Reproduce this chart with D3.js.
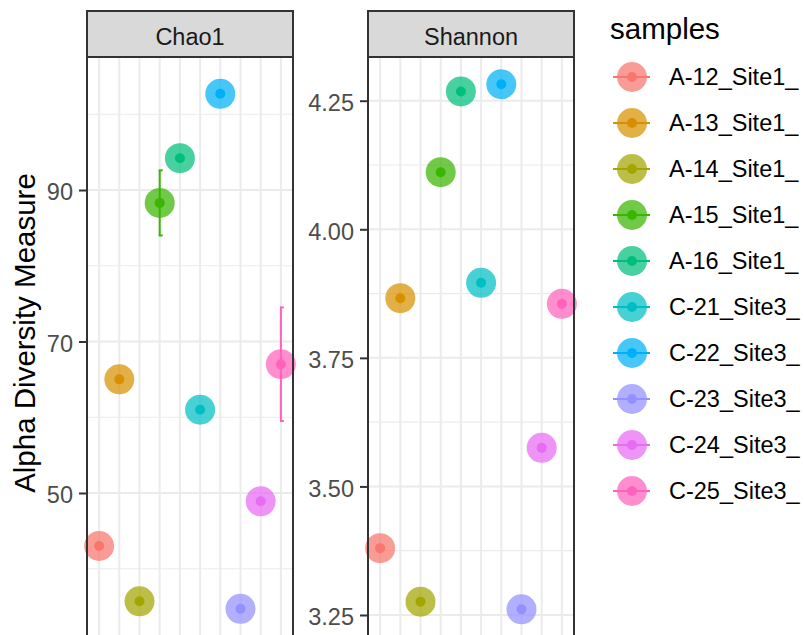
<!DOCTYPE html>
<html>
<head>
<meta charset="utf-8">
<script src="https://cdn.jsdelivr.net/npm/d3@7"></script>
<style>
    body { margin: 0; background: #ffffff; }
    svg { display: block; font-family: "Liberation Sans", Arial, sans-serif; }
</style>
</head>
<body>
<div id="chart"></div>
<script>
// samples (legend labels are cut off at the right edge in the original)
var samples = ['A-12_Site1_', 'A-13_Site1_', 'A-14_Site1_', 'A-15_Site1_', 'A-16_Site1_',
    'C-21_Site3_', 'C-22_Site3_', 'C-23_Site3_', 'C-24_Site3_', 'C-25_Site3_'];
var colors = ['#F8766D', '#D89000', '#A3A500', '#39B600', '#00BF7D',
    '#00BFC4', '#00B0F6', '#9590FF', '#E76BF3', '#FF62BC'];

var chao1 = [43.0, 65.0, 35.7, 88.3, 94.2, 61.0, 102.7, 34.7, 48.9, 67.0];
var chao1Se = [0, 0, 0, 4.3, 0, 0, 0, 0, 0, 7.5];
var shannon = [3.380, 3.866, 3.276, 4.111, 4.268, 3.896, 4.282, 3.261, 3.575, 3.855];

var chao1Ticks = [50, 70, 90];
var chao1Minor = [30, 40, 60, 80, 100];
var shannonTicks = [3.25, 3.50, 3.75, 4.00, 4.25];
var shannonMinor = [3.125, 3.375, 3.625, 3.875, 4.125];

var w = 804, h = 635;
var stripTop = 11, panelTop = 57, panelBottom = 660;

var svg = d3.select('#chart').append('svg').attr('width', w).attr('height', h)
    .attr('viewBox', '0 0 ' + w + ' ' + h);

var facets = [
    { name: 'Chao1', x0: 87, x1: 293, values: chao1, se: chao1Se, domain: [27.95, 107.56],
        ticks: chao1Ticks, minor: chao1Minor, fmt: d3.format('d') },
    { name: 'Shannon', x0: 368, x1: 574, values: shannon, se: null, domain: [3.1625, 4.335],
        ticks: shannonTicks, minor: shannonMinor, fmt: d3.format('.2f') }
];

facets.forEach(drawPanel);

function drawPanel(f) {
    var x = d3.scalePoint().domain(samples).range([f.x0, f.x1]).padding(0.6);
    var y = d3.scaleLinear().domain(f.domain).range([panelBottom, panelTop]);
    var g = svg.append('g');

    // grid
    g.selectAll('line.minor').data(f.minor).enter().append('line')
        .attr('x1', f.x0).attr('x2', f.x1)
        .attr('y1', function (d) { return y(d); }).attr('y2', function (d) { return y(d); })
        .attr('stroke', '#EBEBEB').attr('stroke-width', 1.2);
    g.selectAll('line.hmajor').data(f.ticks).enter().append('line')
        .attr('x1', f.x0).attr('x2', f.x1)
        .attr('y1', function (d) { return y(d); }).attr('y2', function (d) { return y(d); })
        .attr('stroke', '#EBEBEB').attr('stroke-width', 2);
    g.selectAll('line.vmajor').data(samples).enter().append('line')
        .attr('x1', function (d) { return x(d); }).attr('x2', function (d) { return x(d); })
        .attr('y1', panelTop).attr('y2', panelBottom)
        .attr('stroke', '#EBEBEB').attr('stroke-width', 2);

    // error bars
    if (f.se) {
        var bars = g.selectAll('g.err').data(samples.filter(function (d, i) { return f.se[i] > 0; }))
            .enter().append('g');
        bars.append('line')
            .attr('x1', function (d) { return x(d); }).attr('x2', function (d) { return x(d); })
            .attr('y1', function (d) { var i = samples.indexOf(d); return y(f.values[i] + f.se[i]); })
            .attr('y2', function (d) { var i = samples.indexOf(d); return y(f.values[i] - f.se[i]); })
            .attr('stroke', function (d) { return colors[samples.indexOf(d)]; }).attr('stroke-width', 2);
        [1, -1].forEach(function (s) {
            bars.append('line')
                .attr('x1', function (d) { return x(d) - 1; }).attr('x2', function (d) { return x(d) + 3; })
                .attr('y1', function (d) { var i = samples.indexOf(d); return y(f.values[i] + s * f.se[i]); })
                .attr('y2', function (d) { var i = samples.indexOf(d); return y(f.values[i] + s * f.se[i]); })
                .attr('stroke', function (d) { return colors[samples.indexOf(d)]; }).attr('stroke-width', 2);
        });
    }

    // points
    g.selectAll('circle.outer').data(samples).enter().append('circle')
        .attr('cx', function (d) { return x(d); })
        .attr('cy', function (d, i) { return y(f.values[i]); })
        .attr('r', 15).attr('fill', function (d, i) { return colors[i]; }).attr('fill-opacity', 0.72);
    g.selectAll('circle.inner').data(samples).enter().append('circle')
        .attr('cx', function (d) { return x(d); })
        .attr('cy', function (d, i) { return y(f.values[i]); })
        .attr('r', 5).attr('fill', function (d, i) { return colors[i]; });

    // border
    g.append('rect').attr('x', f.x0).attr('y', panelTop)
        .attr('width', f.x1 - f.x0).attr('height', panelBottom - panelTop)
        .attr('fill', 'none').attr('stroke', '#333333').attr('stroke-width', 2);

    // strip
    g.append('rect').attr('x', f.x0).attr('y', stripTop)
        .attr('width', f.x1 - f.x0).attr('height', panelTop - stripTop)
        .attr('fill', '#D9D9D9').attr('stroke', '#333333').attr('stroke-width', 2);
    g.append('text').attr('x', (f.x0 + f.x1) / 2).attr('y', 45)
        .attr('text-anchor', 'middle').attr('font-size', '23.5px').attr('fill', '#1A1A1A')
        .text(f.name);

    // y axis
    var axis = d3.axisLeft(y).tickValues(f.ticks).tickFormat(f.fmt).tickSize(8).tickPadding(6);
    var ax = g.append('g').attr('transform', 'translate(' + f.x0 + ',0)').call(axis);
    ax.select('.domain').remove();
    ax.selectAll('.tick line').attr('stroke', '#333333').attr('stroke-width', 2);
    ax.selectAll('.tick text').attr('font-size', '23.5px').attr('fill', '#4D4D4D')
        .attr('font-family', '"Liberation Sans", Arial, sans-serif').attr('dy', '0.42em');
}

// y axis title
svg.append('text').attr('transform', 'translate(35,333) rotate(-90)')
    .attr('text-anchor', 'middle').attr('font-size', '29.5px').attr('fill', '#000000')
    .text('Alpha Diversity Measure');

// legend
var legend = svg.append('g');
legend.append('text').attr('x', 610).attr('y', 39)
    .attr('font-size', '29.5px').attr('fill', '#000000').text('samples');

var ly = d3.scalePoint().domain(samples).range([77, 491]);
var items = legend.selectAll('g.item').data(samples).enter().append('g')
    .attr('transform', function (d) { return 'translate(632,' + ly(d) + ')'; });
items.append('line').attr('x1', -19).attr('x2', 18).attr('y1', 0).attr('y2', 0)
    .attr('stroke', function (d, i) { return colors[i]; }).attr('stroke-width', 2);
items.append('circle').attr('r', 15)
    .attr('fill', function (d, i) { return colors[i]; }).attr('fill-opacity', 0.72);
items.append('circle').attr('r', 5)
    .attr('fill', function (d, i) { return colors[i]; });
items.append('text').attr('x', 37).attr('y', 0).attr('dy', '0.36em')
    .attr('font-size', '23.5px').attr('fill', '#000000')
    .text(function (d) { return d; });
</script>
</body>
</html>
